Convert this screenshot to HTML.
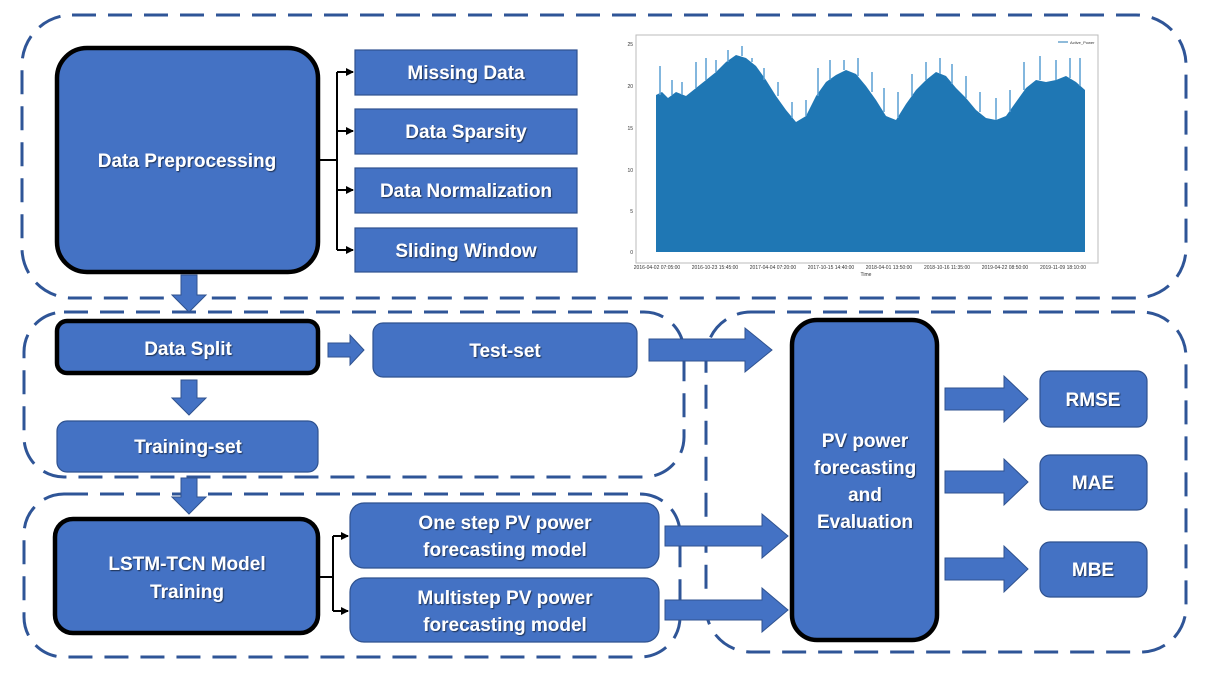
<!DOCTYPE html>
<html><head><style>
body{margin:0;background:#fff;}
svg{display:block;font-family:"Liberation Sans",sans-serif;}
.t{fill:#fff;font-weight:bold;font-size:19px;text-anchor:middle;}
.b{fill:#4472C4;stroke:#2F528F;stroke-width:1.2;}
.k{fill:#4472C4;stroke:#000;stroke-width:4.5;}
.d{fill:none;stroke:#2F5597;stroke-width:3;stroke-dasharray:24 12;}
.ar{fill:#4472C4;stroke:#2F528F;stroke-width:1;}
</style></head><body>
<svg width="1217" height="679" viewBox="0 0 1217 679">
<defs>
<marker id="m" markerWidth="8" markerHeight="8" refX="7" refY="4" orient="auto" markerUnits="userSpaceOnUse"><path d="M0,0L8,4L0,8z" fill="#000"/></marker>
<filter id="s"><feDropShadow dx="1" dy="1" stdDeviation="0.6" flood-color="#000" flood-opacity="0.6"/></filter>
</defs>
<rect class="d" x="22" y="15" width="1164" height="283" rx="50"/>
<rect class="d" x="24" y="312" width="660" height="165" rx="40"/>
<rect class="d" x="24" y="494" width="656" height="163" rx="40"/>
<rect class="d" x="706" y="312" width="480" height="340" rx="45"/>

<rect class="k" x="57" y="48" width="261" height="224" rx="30"/>
<g filter="url(#s)"><text class="t" x="187" y="167">Data Preprocessing</text></g>
<g stroke="#000" stroke-width="2" fill="none">
<path d="M318,160H337M337,72V250"/>
<path d="M337,72H353" marker-end="url(#m)"/>
<path d="M337,131H353" marker-end="url(#m)"/>
<path d="M337,190H353" marker-end="url(#m)"/>
<path d="M337,250H353" marker-end="url(#m)"/>
<path d="M318,577H333M333,536V611"/>
<path d="M333,536H348" marker-end="url(#m)"/>
<path d="M333,611H348" marker-end="url(#m)"/>
</g>
<rect class="b" x="355" y="50" width="222" height="45"/>
<rect class="b" x="355" y="109" width="222" height="45"/>
<rect class="b" x="355" y="168" width="222" height="45"/>
<rect class="b" x="355" y="228" width="222" height="44"/>
<g filter="url(#s)">
<text class="t" x="466" y="79">Missing Data</text>
<text class="t" x="466" y="138">Data Sparsity</text>
<text class="t" x="466" y="197">Data Normalization</text>
<text class="t" x="466" y="257">Sliding Window</text>
</g>

<!-- chart -->
<rect x="636" y="35" width="462" height="228" fill="#fff" stroke="#bbb" stroke-width="1"/>
<path d="M656,252V95L662,92L668,98L676,92L686,96L696,88L706,80L716,72L726,62L736,55L746,58L756,66L766,80L776,96L786,110L796,122L806,116L816,96L826,82L836,75L846,70L856,74L866,86L876,100L886,116L896,120L906,104L916,90L926,80L936,72L946,76L956,88L966,98L976,110L986,118L996,120L1006,116L1016,102L1026,88L1036,80L1046,82L1056,80L1066,76L1076,82L1085,90V252Z" fill="#1F77B4"/>
<path d="M660,95V66M672,95V80M682,95V82M696,88V62M706,80V58M716,72V60M728,62V50M742,56V46M752,62V58M764,80V68M778,96V82M792,118V102M806,116V100M818,96V68M830,80V60M844,70V60M858,76V58M872,92V72M884,112V88M898,118V92M912,96V74M926,80V62M940,74V58M952,84V64M966,98V76M980,112V92M996,120V98M1010,112V90M1024,90V62M1040,80V56M1056,80V60M1070,78V58M1080,86V58" stroke="#5a9fd4" stroke-width="1.5"/>
<g font-size="5" fill="#333" text-anchor="end">
<text x="633" y="46">25</text><text x="633" y="88">20</text><text x="633" y="130">15</text><text x="633" y="172">10</text><text x="633" y="213">5</text><text x="633" y="254">0</text>
</g>
<g font-size="5" fill="#333" text-anchor="middle">
<text x="657" y="269">2016-04-02 07:05:00</text><text x="715" y="269">2016-10-23 15:45:00</text><text x="773" y="269">2017-04-04 07:20:00</text><text x="831" y="269">2017-10-15 14:40:00</text><text x="889" y="269">2018-04-01 13:50:00</text><text x="947" y="269">2018-10-16 11:35:00</text><text x="1005" y="269">2019-04-22 08:50:00</text><text x="1063" y="269">2019-11-09 18:10:00</text>
<text x="866" y="276">Time</text>
</g>
<path d="M1058,42H1068" stroke="#1F77B4"/><text x="1070" y="44" font-size="4" fill="#333">Active_Power</text>

<!-- down arrows -->
<path class="ar" d="M181,275H197V295H206L189,312L172,295H181Z"/>
<path class="ar" d="M181,380H197V398H206L189,415L172,398H181Z"/>
<path class="ar" d="M181,478H197V497H206L189,514L172,497H181Z"/>
<path class="ar" d="M328,343H350V335L364,350L350,365V357H328Z"/>

<rect class="k" x="57" y="321" width="261" height="52" rx="10"/>
<rect class="b" x="373" y="323" width="264" height="54" rx="10"/>
<rect class="b" x="57" y="421" width="261" height="51" rx="10"/>
<rect class="k" x="55" y="519" width="263" height="114" rx="18"/>
<rect class="b" x="350" y="503" width="309" height="65" rx="14"/>
<rect class="b" x="350" y="578" width="309" height="64" rx="14"/>
<g filter="url(#s)">
<text class="t" x="188" y="355" font-size="18">Data Split</text>
<text class="t" x="505" y="357" font-size="18">Test-set</text>
<text class="t" x="188" y="453" font-size="18">Training-set</text>
<text class="t" x="187" y="570">LSTM-TCN Model</text>
<text class="t" x="187" y="598">Training</text>
<text class="t" x="505" y="529" font-size="18">One step PV power</text>
<text class="t" x="505" y="556" font-size="18">forecasting  model</text>
<text class="t" x="505" y="604" font-size="18">Multistep PV power</text>
<text class="t" x="505" y="631" font-size="18">forecasting model</text>
</g>

<path class="ar" d="M649,339H745V328L772,350L745,372V361H649Z"/>
<path class="ar" d="M665,526H762V514L788,536L762,558V546H665Z"/>
<path class="ar" d="M665,600H762V588L788,610L762,632V620H665Z"/>

<rect class="k" x="792" y="320" width="145" height="320" rx="25" stroke-width="5"/>
<g filter="url(#s)">
<text class="t" x="865" y="447">PV power</text>
<text class="t" x="865" y="474">forecasting</text>
<text class="t" x="865" y="501">and</text>
<text class="t" x="865" y="528">Evaluation</text>
</g>

<path class="ar" d="M945,388H1004V376L1028,399L1004,422V410H945Z"/>
<path class="ar" d="M945,471H1004V459L1028,482L1004,505V493H945Z"/>
<path class="ar" d="M945,558H1004V546L1028,569L1004,592V580H945Z"/>
<rect class="b" x="1040" y="371" width="107" height="56" rx="10"/>
<rect class="b" x="1040" y="455" width="107" height="55" rx="10"/>
<rect class="b" x="1040" y="542" width="107" height="55" rx="10"/>
<g filter="url(#s)">
<text class="t" x="1093" y="406" font-size="18">RMSE</text>
<text class="t" x="1093" y="489" font-size="18">MAE</text>
<text class="t" x="1093" y="576" font-size="18">MBE</text>
</g>
</svg>
</body></html>
